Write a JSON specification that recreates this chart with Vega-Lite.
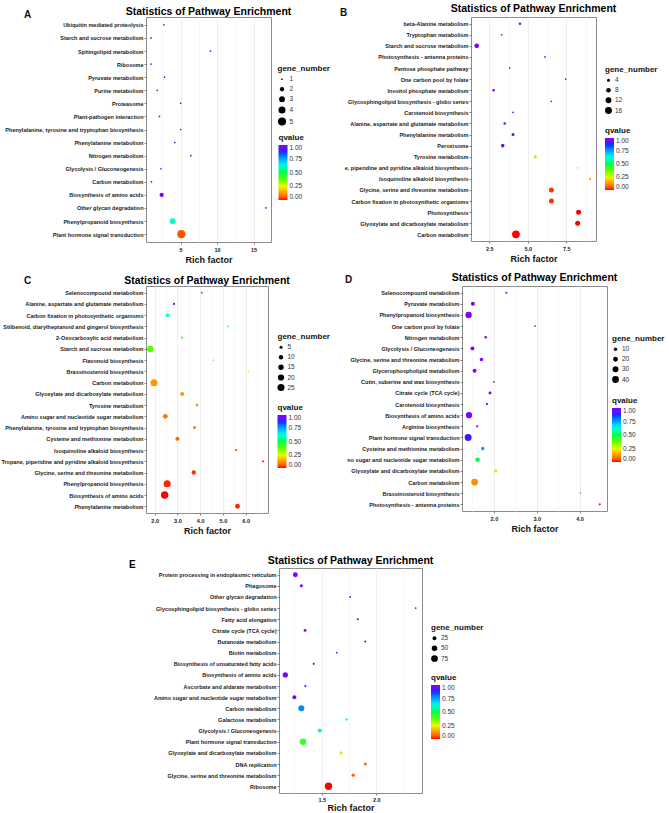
{
"$schema": "https://vega.github.io/schema/vega-lite/v6.json",
"padding": {"left": 0, "top": 3, "right": 5, "bottom": 0},
"background": "white",
"datasets": {
"A": [
{"pathway": "Ubiquitin mediated proteolysis", "rich_factor": 2.7, "gene_number": 1, "qvalue": 1.0},
{"pathway": "Starch and sucrose metabolism", "rich_factor": 0.94, "gene_number": 1, "qvalue": 1.0},
{"pathway": "Sphingolipid metabolism", "rich_factor": 9.1, "gene_number": 1, "qvalue": 1.0},
{"pathway": "Ribosome", "rich_factor": 0.94, "gene_number": 1, "qvalue": 1.0},
{"pathway": "Pyruvate metabolism", "rich_factor": 2.8, "gene_number": 1, "qvalue": 1.0},
{"pathway": "Purine metabolism", "rich_factor": 1.8, "gene_number": 1, "qvalue": 1.0},
{"pathway": "Proteasome", "rich_factor": 5.0, "gene_number": 1, "qvalue": 1.0},
{"pathway": "Plant-pathogen interaction", "rich_factor": 2.1, "gene_number": 1, "qvalue": 1.0},
{"pathway": "Phenylalanine, tyrosine and tryptophan biosynthesis", "rich_factor": 5.0, "gene_number": 1, "qvalue": 1.0},
{"pathway": "Phenylalanine metabolism", "rich_factor": 4.2, "gene_number": 1, "qvalue": 1.0},
{"pathway": "Nitrogen metabolism", "rich_factor": 6.4, "gene_number": 1, "qvalue": 1.0},
{"pathway": "Glycolysis / Gluconeogenesis", "rich_factor": 2.3, "gene_number": 1, "qvalue": 1.0},
{"pathway": "Carbon metabolism", "rich_factor": 1.0, "gene_number": 1, "qvalue": 1.0},
{"pathway": "Biosynthesis of amino acids", "rich_factor": 2.4, "gene_number": 2, "qvalue": 0.98},
{"pathway": "Other glycan degradation", "rich_factor": 16.7, "gene_number": 1, "qvalue": 1.0},
{"pathway": "Phenylpropanoid biosynthesis", "rich_factor": 3.9, "gene_number": 3, "qvalue": 0.6},
{"pathway": "Plant hormone signal transduction", "rich_factor": 5.1, "gene_number": 5, "qvalue": 0.05}
],
"B": [
{"pathway": "beta-Alanine metabolism", "rich_factor": 4.49, "gene_number": 3, "qvalue": 1.0},
{"pathway": "Tryptophan metabolism", "rich_factor": 3.3, "gene_number": 2, "qvalue": 1.0},
{"pathway": "Starch and sucrose metabolism", "rich_factor": 1.68, "gene_number": 8, "qvalue": 1.0},
{"pathway": "Photosynthesis - antenna proteins", "rich_factor": 6.12, "gene_number": 2, "qvalue": 1.0},
{"pathway": "Pentose phosphate pathway", "rich_factor": 3.82, "gene_number": 2, "qvalue": 1.0},
{"pathway": "One carbon pool by folate", "rich_factor": 7.46, "gene_number": 2, "qvalue": 1.0},
{"pathway": "Inositol phosphate metabolism", "rich_factor": 2.78, "gene_number": 3, "qvalue": 1.0},
{"pathway": "Glycosphingolipid biosynthesis - globo series", "rich_factor": 6.53, "gene_number": 2, "qvalue": 1.0},
{"pathway": "Carotenoid biosynthesis", "rich_factor": 4.04, "gene_number": 2, "qvalue": 1.0},
{"pathway": "Alanine, aspartate and glutamate metabolism", "rich_factor": 3.5, "gene_number": 3, "qvalue": 1.0},
{"pathway": "Phenylalanine metabolism", "rich_factor": 4.04, "gene_number": 4, "qvalue": 0.97},
{"pathway": "Peroxisome", "rich_factor": 3.37, "gene_number": 5, "qvalue": 0.95},
{"pathway": "Tyrosine metabolism", "rich_factor": 5.49, "gene_number": 4, "qvalue": 0.32},
{"pathway": "e, piperidine and pyridine alkaloid biosynthesis", "rich_factor": 8.24, "gene_number": 2, "qvalue": 0.3},
{"pathway": "Isoquinoline alkaloid biosynthesis", "rich_factor": 9.06, "gene_number": 2, "qvalue": 0.08},
{"pathway": "Glycine, serine and threonine metabolism", "rich_factor": 6.53, "gene_number": 9, "qvalue": 0.02},
{"pathway": "Carbon fixation in photosynthetic organisms", "rich_factor": 6.53, "gene_number": 9, "qvalue": 0.02},
{"pathway": "Photosynthesis", "rich_factor": 8.3, "gene_number": 9, "qvalue": 0.0},
{"pathway": "Glyoxylate and dicarboxylate metabolism", "rich_factor": 8.24, "gene_number": 9, "qvalue": 0.0},
{"pathway": "Carbon metabolism", "rich_factor": 4.23, "gene_number": 20, "qvalue": 0.0}
],
"C": [
{"pathway": "Selenocompound metabolism", "rich_factor": 4.07, "gene_number": 2, "qvalue": 1.0},
{"pathway": "Alanine, aspartate and glutamate metabolism", "rich_factor": 2.85, "gene_number": 3, "qvalue": 0.95},
{"pathway": "Carbon fixation in photosynthetic organisms", "rich_factor": 2.57, "gene_number": 7, "qvalue": 0.62},
{"pathway": "Stilbenoid, diarylheptanoid and gingerol biosynthesis", "rich_factor": 5.23, "gene_number": 2, "qvalue": 0.45},
{"pathway": "2-Oxocarboxylic acid metabolism", "rich_factor": 3.2, "gene_number": 3, "qvalue": 0.42},
{"pathway": "Starch and sucrose metabolism", "rich_factor": 1.81, "gene_number": 22, "qvalue": 0.37},
{"pathway": "Flavonoid biosynthesis", "rich_factor": 4.58, "gene_number": 2, "qvalue": 0.3},
{"pathway": "Brassinosteroid biosynthesis", "rich_factor": 6.12, "gene_number": 2, "qvalue": 0.28},
{"pathway": "Carbon metabolism", "rich_factor": 1.97, "gene_number": 25, "qvalue": 0.13},
{"pathway": "Glyoxylate and dicarboxylate metabolism", "rich_factor": 3.21, "gene_number": 8, "qvalue": 0.12},
{"pathway": "Tyrosine metabolism", "rich_factor": 3.86, "gene_number": 4, "qvalue": 0.12},
{"pathway": "Amino sugar and nucleotide sugar metabolism", "rich_factor": 2.47, "gene_number": 12, "qvalue": 0.09},
{"pathway": "Phenylalanine, tyrosine and tryptophan biosynthesis", "rich_factor": 3.75, "gene_number": 5, "qvalue": 0.09},
{"pathway": "Cysteine and methionine metabolism", "rich_factor": 3.0, "gene_number": 9, "qvalue": 0.07},
{"pathway": "Isoquinoline alkaloid biosynthesis", "rich_factor": 5.58, "gene_number": 3, "qvalue": 0.03},
{"pathway": "Tropane, piperidine and pyridine alkaloid biosynthesis", "rich_factor": 6.76, "gene_number": 3, "qvalue": 0.02},
{"pathway": "Glycine, serine and threonine metabolism", "rich_factor": 3.72, "gene_number": 10, "qvalue": 0.02},
{"pathway": "Phenylpropanoid biosynthesis", "rich_factor": 2.55, "gene_number": 26, "qvalue": 0.01},
{"pathway": "Biosynthesis of amino acids", "rich_factor": 2.44, "gene_number": 28, "qvalue": 0.0},
{"pathway": "Phenylalanine metabolism", "rich_factor": 5.64, "gene_number": 12, "qvalue": 0.01}
],
"D": [
{"pathway": "Selenocompound metabolism", "rich_factor": 2.29, "gene_number": 4, "qvalue": 1.0},
{"pathway": "Pyruvate metabolism", "rich_factor": 1.51, "gene_number": 14, "qvalue": 1.0},
{"pathway": "Phenylpropanoid biosynthesis", "rich_factor": 1.41, "gene_number": 35, "qvalue": 1.0},
{"pathway": "One carbon pool by folate", "rich_factor": 2.96, "gene_number": 3, "qvalue": 1.0},
{"pathway": "Nitrogen metabolism", "rich_factor": 1.81, "gene_number": 6, "qvalue": 1.0},
{"pathway": "Glycolysis / Gluconeogenesis", "rich_factor": 1.5, "gene_number": 14, "qvalue": 1.0},
{"pathway": "Glycine, serine and threonine metabolism", "rich_factor": 1.71, "gene_number": 11, "qvalue": 1.0},
{"pathway": "Glycerophospholipid metabolism", "rich_factor": 1.55, "gene_number": 14, "qvalue": 1.0},
{"pathway": "Cutin, suberine and wax biosynthesis", "rich_factor": 2.0, "gene_number": 3, "qvalue": 1.0},
{"pathway": "Citrate cycle (TCA cycle)", "rich_factor": 1.91, "gene_number": 8, "qvalue": 1.0},
{"pathway": "Carotenoid biosynthesis", "rich_factor": 1.84, "gene_number": 5, "qvalue": 1.0},
{"pathway": "Biosynthesis of amino acids", "rich_factor": 1.42, "gene_number": 33, "qvalue": 1.0},
{"pathway": "Arginine biosynthesis", "rich_factor": 1.61, "gene_number": 5, "qvalue": 1.0},
{"pathway": "Plant hormone signal transduction", "rich_factor": 1.4, "gene_number": 42, "qvalue": 0.9},
{"pathway": "Cysteine and methionine metabolism", "rich_factor": 1.74, "gene_number": 11, "qvalue": 0.75},
{"pathway": "no sugar and nucleotide sugar metabolism", "rich_factor": 1.62, "gene_number": 18, "qvalue": 0.5},
{"pathway": "Glyoxylate and dicarboxylate metabolism", "rich_factor": 2.04, "gene_number": 9, "qvalue": 0.3},
{"pathway": "Carbon metabolism", "rich_factor": 1.55, "gene_number": 40, "qvalue": 0.12},
{"pathway": "Brassinosteroid biosynthesis", "rich_factor": 4.02, "gene_number": 3, "qvalue": 0.1},
{"pathway": "Photosynthesis - antenna proteins", "rich_factor": 4.47, "gene_number": 5, "qvalue": 0.01}
],
"E": [
{"pathway": "Protein processing in endoplasmic reticulum", "rich_factor": 1.258, "gene_number": 40, "qvalue": 1.0},
{"pathway": "Phagosome", "rich_factor": 1.313, "gene_number": 15, "qvalue": 1.0},
{"pathway": "Other glycan degradation", "rich_factor": 1.761, "gene_number": 5, "qvalue": 1.0},
{"pathway": "Glycosphingolipid biosynthesis - globo series", "rich_factor": 2.362, "gene_number": 4, "qvalue": 1.0},
{"pathway": "Fatty acid elongation", "rich_factor": 1.831, "gene_number": 7, "qvalue": 1.0},
{"pathway": "Citrate cycle (TCA cycle)", "rich_factor": 1.347, "gene_number": 13, "qvalue": 1.0},
{"pathway": "Butanoate metabolism", "rich_factor": 1.9, "gene_number": 7, "qvalue": 1.0},
{"pathway": "Biotin metabolism", "rich_factor": 1.638, "gene_number": 4, "qvalue": 1.0},
{"pathway": "Biosynthesis of unsaturated fatty acids", "rich_factor": 1.427, "gene_number": 7, "qvalue": 1.0},
{"pathway": "Biosynthesis of amino acids", "rich_factor": 1.166, "gene_number": 45, "qvalue": 1.0},
{"pathway": "Ascorbate and aldarate metabolism", "rich_factor": 1.35, "gene_number": 7, "qvalue": 1.0},
{"pathway": "Amino sugar and nucleotide sugar metabolism", "rich_factor": 1.249, "gene_number": 25, "qvalue": 1.0},
{"pathway": "Carbon metabolism", "rich_factor": 1.313, "gene_number": 60, "qvalue": 0.78},
{"pathway": "Galactose metabolism", "rich_factor": 1.728, "gene_number": 8, "qvalue": 0.63},
{"pathway": "Glycolysis / Gluconeogenesis", "rich_factor": 1.482, "gene_number": 28, "qvalue": 0.6},
{"pathway": "Plant hormone signal transduction", "rich_factor": 1.329, "gene_number": 68, "qvalue": 0.45},
{"pathway": "Glyoxylate and dicarboxylate metabolism", "rich_factor": 1.678, "gene_number": 15, "qvalue": 0.3},
{"pathway": "DNA replication", "rich_factor": 1.9, "gene_number": 15, "qvalue": 0.08},
{"pathway": "Glycine, serine and threonine metabolism", "rich_factor": 1.789, "gene_number": 18, "qvalue": 0.06},
{"pathway": "Ribosome", "rich_factor": 1.562, "gene_number": 92, "qvalue": 0.0}
]
},
"config": {
"font": "Liberation Sans",
"view": {"stroke": "#8c8c8c", "strokeWidth": 1},
"title": {"fontSize": 10.5, "fontWeight": "bold", "anchor": "middle", "frame": "group", "color": "#000000"},
"axis": {"domain": false, "labelFontSize": 5.5, "labelFontWeight": "bold", "labelColor": "#1a1a1a", "tickSize": 2, "tickColor": "#333333", "tickWidth": 0.6, "labelPadding": 1, "gridColor": "#e6e6e6", "gridWidth": 0.7, "titleFontSize": 9, "titleFontWeight": "bold", "titleColor": "#111111", "labelOverlap": false},
"axisX": {"titlePadding": 3, "labelPadding": 3},
"axisY": {"titleAngle": 0, "titleFontSize": 10, "titleBaseline": "middle", "titleAlign": "center"},
"legend": {"titleFontSize": 8, "titleFontWeight": "bold", "labelFontSize": 6.5, "labelColor": "#333333", "titleColor": "#111111", "symbolFillColor": "black", "symbolStrokeWidth": 0, "rowPadding": 3, "titlePadding": 3, "gradientThickness": 9, "labelOverlap": false, "labelOffset": 3}
},
"resolve": {"scale": {"color": "independent", "size": "independent"}},
"spacing": 19,
"vconcat": [
{
"spacing": 7,
"resolve": {"scale": {"color": "independent", "size": "independent"}},
"vconcat": [
{
"hconcat": [
{
"width": 125, "height": 225,
"data": {"name": "A"},
"title": {"text": "Statistics of Pathway Enrichment", "offset": -8},
"mark": {"type": "circle", "opacity": 1},
"encoding": {
"x": {"field": "rich_factor", "type": "quantitative", "scale": {"domain": [0.25, 17.4], "nice": false, "zero": false},
 "axis": {"title": "Rich factor", "values": [2.5, 5, 7.5, 10, 12.5, 15], "labelExpr": "datum.value % 5 === 0 ? datum.label : ''",
  "gridColor": {"condition": {"test": "datum.value % 5 === 0", "value": "#e6e6e6"}, "value": "#f3f3f3"},
  "tickColor": {"condition": {"test": "datum.value % 5 === 0", "value": "#333333"}, "value": "transparent"}}},
"y": {"field": "pathway", "type": "nominal", "sort": null, "scale": {"type": "point", "padding": 0.6}, "axis": {"title": "A", "titleX": -119, "titleY": -3}},
"size": {"field": "gene_number", "type": "quantitative", "scale": {"domain": [1, 5], "range": [3, 65], "zero": false},
 "legend": {"values": [1, 2, 3, 4, 5], "orient": "none", "legendX": 131.5, "legendY": 48, "symbolType": "circle"}},
"color": {"field": "qvalue", "type": "quantitative",
 "scale": {"domain": [0, 0.125, 0.25, 0.375, 0.5, 0.625, 0.75, 0.875, 1], "range": ["#ff0000", "#ff9000", "#e1ff00", "#51ff00", "#00ff40", "#00ffd0", "#00a2ff", "#2a1cff", "#8000ff"]},
 "legend": {"orient": "none", "legendX": 132.5, "legendY": 117, "direction": "vertical", "gradientLength": 55, "values": [0, 0.25, 0.5, 0.75, 1], "format": ".2f"}}
}
},
{
"width": 125, "height": 224,
"data": {"name": "B"},
"title": {"text": "Statistics of Pathway Enrichment", "offset": -7},
"mark": {"type": "circle", "opacity": 1},
"encoding": {
"x": {"field": "rich_factor", "type": "quantitative", "scale": {"domain": [1.31, 9.43], "nice": false, "zero": false},
 "axis": {"title": "Rich factor", "format": ".1f", "values": [2.5, 3.75, 5, 6.25, 7.5, 8.75], "labelExpr": "abs(datum.value / 2.5 - round(datum.value / 2.5)) < 0.01 ? datum.label : ''",
  "gridColor": {"condition": {"test": "abs(datum.value / 2.5 - round(datum.value / 2.5)) < 0.01", "value": "#e6e6e6"}, "value": "#f3f3f3"},
  "tickColor": {"condition": {"test": "abs(datum.value / 2.5 - round(datum.value / 2.5)) < 0.01", "value": "#333333"}, "value": "transparent"}}},
"y": {"field": "pathway", "type": "nominal", "sort": null, "scale": {"type": "point", "padding": 0.6}, "axis": {"title": "B", "titleX": -128, "titleY": -5}},
"size": {"field": "gene_number", "type": "quantitative", "scale": {"domain": [2, 20], "range": [3, 60], "zero": false},
 "legend": {"values": [4, 8, 12, 16], "orient": "none", "legendX": 134, "legendY": 49, "symbolType": "circle"}},
"color": {"field": "qvalue", "type": "quantitative",
 "scale": {"domain": [0, 0.125, 0.25, 0.375, 0.5, 0.625, 0.75, 0.875, 1], "range": ["#ff0000", "#ff9000", "#e1ff00", "#51ff00", "#00ff40", "#00ffd0", "#00a2ff", "#2a1cff", "#8000ff"]},
 "legend": {"orient": "none", "legendX": 134, "legendY": 110, "direction": "vertical", "gradientLength": 52, "values": [0, 0.25, 0.5, 0.75, 1], "format": ".2f"}}
}
}
],
"bounds": "flush",
"spacing": 200,
"resolve": {"scale": {"color": "independent", "size": "independent"}}
},
{
"hconcat": [
{
"width": 122, "height": 227,
"data": {"name": "C"},
"title": {"text": "Statistics of Pathway Enrichment", "offset": -11},
"mark": {"type": "circle", "opacity": 1},
"encoding": {
"x": {"field": "rich_factor", "type": "quantitative", "scale": {"domain": [1.62, 6.98], "nice": false, "zero": false},
 "axis": {"title": "Rich factor", "values": [2, 2.5, 3, 3.5, 4, 4.5, 5, 5.5, 6, 6.5], "labelExpr": "datum.value % 1 === 0 ? datum.label : ''",
  "gridColor": {"condition": {"test": "datum.value % 1 === 0", "value": "#e6e6e6"}, "value": "#f3f3f3"},
  "tickColor": {"condition": {"test": "datum.value % 1 === 0", "value": "#333333"}, "value": "transparent"}}},
"y": {"field": "pathway", "type": "nominal", "sort": null, "scale": {"type": "point", "padding": 0.6}, "axis": {"title": "C", "titleX": -119, "titleY": -6}},
"size": {"field": "gene_number", "type": "quantitative", "scale": {"domain": [2, 28], "range": [3, 55], "zero": false},
 "legend": {"values": [5, 10, 15, 20, 25], "orient": "none", "legendX": 131.5, "legendY": 47, "symbolType": "circle"}},
"color": {"field": "qvalue", "type": "quantitative",
 "scale": {"domain": [0, 0.125, 0.25, 0.375, 0.5, 0.625, 0.75, 0.875, 1], "range": ["#ff0000", "#ff9000", "#e1ff00", "#51ff00", "#00ff40", "#00ffd0", "#00a2ff", "#2a1cff", "#8000ff"]},
 "legend": {"orient": "none", "legendX": 131.5, "legendY": 118, "direction": "vertical", "gradientLength": 53, "values": [0, 0.25, 0.5, 0.75, 1], "format": ".2f"}}
}
},
{
"width": 145, "height": 225,
"data": {"name": "D"},
"title": {"text": "Statistics of Pathway Enrichment", "offset": -9},
"mark": {"type": "circle", "opacity": 1},
"encoding": {
"x": {"field": "rich_factor", "type": "quantitative", "scale": {"domain": [1.256, 4.64], "nice": false, "zero": false},
 "axis": {"title": "Rich factor", "values": [1.5, 2, 2.5, 3, 3.5, 4, 4.5], "labelExpr": "datum.value % 1 === 0 ? datum.label : ''",
  "gridColor": {"condition": {"test": "datum.value % 1 === 0", "value": "#e6e6e6"}, "value": "#f3f3f3"},
  "tickColor": {"condition": {"test": "datum.value % 1 === 0", "value": "#333333"}, "value": "transparent"}}},
"y": {"field": "pathway", "type": "nominal", "sort": null, "scale": {"type": "point", "padding": 0.6}, "axis": {"title": "D", "titleX": -114, "titleY": -7}},
"size": {"field": "gene_number", "type": "quantitative", "scale": {"domain": [3, 43], "range": [3, 50], "zero": false},
 "legend": {"values": [10, 20, 30, 40], "orient": "none", "legendX": 150, "legendY": 49, "symbolType": "circle"}},
"color": {"field": "qvalue", "type": "quantitative",
 "scale": {"domain": [0, 0.125, 0.25, 0.375, 0.5, 0.625, 0.75, 0.875, 1], "range": ["#ff0000", "#ff9000", "#e1ff00", "#51ff00", "#00ff40", "#00ffd0", "#00a2ff", "#2a1cff", "#8000ff"]},
 "legend": {"orient": "none", "legendX": 150, "legendY": 111, "direction": "vertical", "gradientLength": 54, "values": [0, 0.25, 0.5, 0.75, 1], "format": ".2f"}}
}
}
],
"bounds": "flush",
"spacing": 194,
"resolve": {"scale": {"color": "independent", "size": "independent"}}
}
]
},
{
"spacing": 5,
"resolve": {"scale": {"color": "independent", "size": "independent"}},
"hconcat": [
{"width": 1, "height": 1, "data": {"values": []}, "mark": "point", "encoding": {}, "view": {"stroke": null},
 "title": {"text": "E", "anchor": "start", "dx": -17, "offset": -2, "fontSize": 10, "fontWeight": "bold"}},
{
"width": 143, "height": 225,
"data": {"name": "E"},
"title": {"text": "Statistics of Pathway Enrichment", "offset": 1.5},
"mark": {"type": "circle", "opacity": 1},
"encoding": {
"x": {"field": "rich_factor", "type": "quantitative", "scale": {"domain": [1.108, 2.42], "nice": false, "zero": false},
 "axis": {"title": "Rich factor", "titlePadding": 1, "labelPadding": 2, "format": ".1f", "values": [1.25, 1.5, 1.75, 2, 2.25], "labelExpr": "abs(datum.value * 2 - round(datum.value * 2)) < 0.01 ? datum.label : ''",
  "gridColor": {"condition": {"test": "abs(datum.value * 2 - round(datum.value * 2)) < 0.01", "value": "#e6e6e6"}, "value": "#f3f3f3"},
  "tickColor": {"condition": {"test": "abs(datum.value * 2 - round(datum.value * 2)) < 0.01", "value": "#333333"}, "value": "transparent"}}},
"y": {"field": "pathway", "type": "nominal", "sort": null, "scale": {"type": "point", "padding": 0.6}, "axis": {"title": null}},
"size": {"field": "gene_number", "type": "quantitative", "scale": {"domain": [4, 92], "range": [3, 55], "zero": false},
 "legend": {"values": [25, 50, 75], "orient": "none", "legendX": 152, "legendY": 56, "symbolType": "circle"}},
"color": {"field": "qvalue", "type": "quantitative",
 "scale": {"domain": [0, 0.125, 0.25, 0.375, 0.5, 0.625, 0.75, 0.875, 1], "range": ["#ff0000", "#ff9000", "#e1ff00", "#51ff00", "#00ff40", "#00ffd0", "#00a2ff", "#2a1cff", "#8000ff"]},
 "legend": {"orient": "none", "legendX": 152, "legendY": 106, "direction": "vertical", "gradientLength": 54, "values": [0, 0.25, 0.5, 0.75, 1], "format": ".2f"}}
}
}
]
}
]
}
